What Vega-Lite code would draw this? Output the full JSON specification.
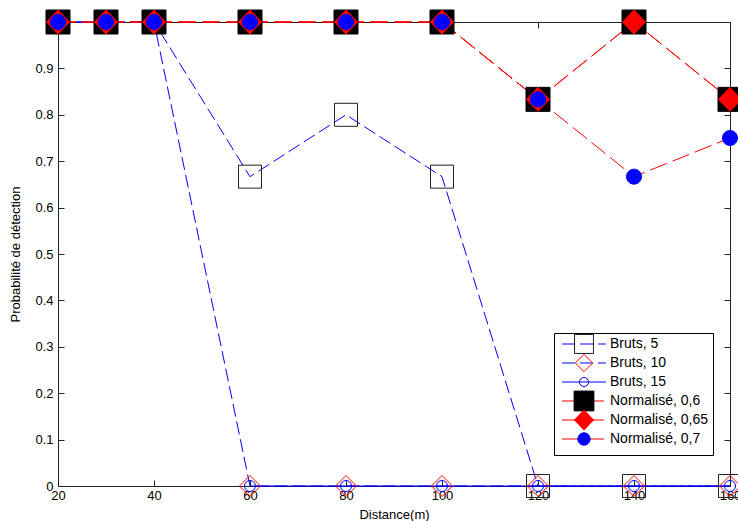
{
  "$schema": "https://vega.github.io/schema/vega-lite/v6.json",
  "width": 672,
  "height": 464,
  "autosize": {"type": "none"},
  "padding": {"left": 58, "top": 22, "right": 8, "bottom": 35},
  "background": "white",
  "config": {
    "view": {"stroke": null},
    "font": "Liberation Sans",
    "axis": {"labelFont": "Liberation Sans", "titleFont": "Liberation Sans", "labelColor": "#000", "titleColor": "#000", "domainColor": "#222", "tickColor": "#222", "grid": false, "titleFontWeight": "normal"},
    "legend": {"labelFont": "Liberation Sans"}
  },
  "data": {
    "values": [
      {"x": 20, "y": 1, "series": "Bruts, 5"},
      {"x": 30, "y": 1, "series": "Bruts, 5"},
      {"x": 40, "y": 1, "series": "Bruts, 5"},
      {"x": 60, "y": 0.6667, "series": "Bruts, 5"},
      {"x": 80, "y": 0.8, "series": "Bruts, 5"},
      {"x": 100, "y": 0.6667, "series": "Bruts, 5"},
      {"x": 120, "y": 0, "series": "Bruts, 5"},
      {"x": 140, "y": 0, "series": "Bruts, 5"},
      {"x": 160, "y": 0, "series": "Bruts, 5"},
      {"x": 20, "y": 1, "series": "Bruts, 10"},
      {"x": 30, "y": 1, "series": "Bruts, 10"},
      {"x": 40, "y": 1, "series": "Bruts, 10"},
      {"x": 60, "y": 0, "series": "Bruts, 10"},
      {"x": 80, "y": 0, "series": "Bruts, 10"},
      {"x": 100, "y": 0, "series": "Bruts, 10"},
      {"x": 120, "y": 0, "series": "Bruts, 10"},
      {"x": 140, "y": 0, "series": "Bruts, 10"},
      {"x": 160, "y": 0, "series": "Bruts, 10"},
      {"x": 60, "y": 0, "series": "Bruts, 15"},
      {"x": 80, "y": 0, "series": "Bruts, 15"},
      {"x": 100, "y": 0, "series": "Bruts, 15"},
      {"x": 120, "y": 0, "series": "Bruts, 15"},
      {"x": 140, "y": 0, "series": "Bruts, 15"},
      {"x": 160, "y": 0, "series": "Bruts, 15"},
      {"x": 20, "y": 1, "series": "Normalisé, 0,6"},
      {"x": 30, "y": 1, "series": "Normalisé, 0,6"},
      {"x": 40, "y": 1, "series": "Normalisé, 0,6"},
      {"x": 60, "y": 1, "series": "Normalisé, 0,6"},
      {"x": 80, "y": 1, "series": "Normalisé, 0,6"},
      {"x": 100, "y": 1, "series": "Normalisé, 0,6"},
      {"x": 120, "y": 0.8333, "series": "Normalisé, 0,6"},
      {"x": 140, "y": 1, "series": "Normalisé, 0,6"},
      {"x": 160, "y": 0.8333, "series": "Normalisé, 0,6"},
      {"x": 20, "y": 1, "series": "Normalisé, 0,65"},
      {"x": 30, "y": 1, "series": "Normalisé, 0,65"},
      {"x": 40, "y": 1, "series": "Normalisé, 0,65"},
      {"x": 60, "y": 1, "series": "Normalisé, 0,65"},
      {"x": 80, "y": 1, "series": "Normalisé, 0,65"},
      {"x": 100, "y": 1, "series": "Normalisé, 0,65"},
      {"x": 120, "y": 0.8333, "series": "Normalisé, 0,65"},
      {"x": 140, "y": 1, "series": "Normalisé, 0,65"},
      {"x": 160, "y": 0.8333, "series": "Normalisé, 0,65"},
      {"x": 20, "y": 1, "series": "Normalisé, 0,7"},
      {"x": 30, "y": 1, "series": "Normalisé, 0,7"},
      {"x": 40, "y": 1, "series": "Normalisé, 0,7"},
      {"x": 60, "y": 1, "series": "Normalisé, 0,7"},
      {"x": 80, "y": 1, "series": "Normalisé, 0,7"},
      {"x": 100, "y": 1, "series": "Normalisé, 0,7"},
      {"x": 120, "y": 0.8333, "series": "Normalisé, 0,7"},
      {"x": 140, "y": 0.6667, "series": "Normalisé, 0,7"},
      {"x": 160, "y": 0.75, "series": "Normalisé, 0,7"}
    ]
  },
  "resolve": {
    "scale": {"stroke": "independent", "fill": "independent", "shape": "independent", "strokeDash": "independent"},
    "legend": {"stroke": "independent", "fill": "independent", "shape": "independent", "strokeDash": "independent"},
    "axis": {"x": "independent", "y": "independent"}
  },
  "layer": [
    {
      "mark": {"type": "line", "strokeWidth": 1, "opacity": 1},
      "encoding": {
        "x": {"field": "x", "type": "quantitative", "scale": {"domain": [20, 160], "nice": false, "zero": false},
          "axis": {"orient": "bottom", "values": [20, 40, 60, 80, 100, 120, 140, 160], "tickSize": -6, "labelPadding": 9, "labelFontSize": 13, "title": "Distance(m)", "titleFontSize": 13, "titlePadding": 6, "labelFlush": false, "labelOverlap": false}},
        "y": {"field": "y", "type": "quantitative", "scale": {"domain": [0, 1], "nice": false, "zero": false},
          "axis": {"orient": "left", "values": [0, 0.1, 0.2, 0.3, 0.4, 0.5, 0.6, 0.7, 0.8, 0.9, 1], "format": "~g", "tickSize": -6, "labelPadding": 11, "labelFontSize": 13, "title": "Probabilité de détection", "titleFontSize": 13, "titlePadding": 12, "labelFlush": false, "labelOverlap": false}},
        "stroke": {"field": "series", "type": "nominal",
          "scale": {"domain": ["Bruts, 5", "Bruts, 10", "Bruts, 15", "Normalisé, 0,6", "Normalisé, 0,65", "Normalisé, 0,7"], "range": ["#0000ff", "#0000ff", "#0000ff", "#ff0000", "#ff0000", "#ff0000"]},
          "legend": {"orient": "none", "legendX": 496, "legendY": 311, "title": null, "symbolType": "M-5.33,0H5.33M0,-2.4M0,2.4", "symbolSize": 68, "symbolStrokeWidth": 1, "labelFontSize": 14, "labelOffset": 19, "symbolOffset": 19, "padding": 4, "rowPadding": -20, "fillColor": "white", "strokeColor": "#000", "labelColor": "#000"}},
        "strokeDash": {"field": "series", "type": "nominal",
          "scale": {"domain": ["Bruts, 5", "Bruts, 10", "Bruts, 15", "Normalisé, 0,6", "Normalisé, 0,65", "Normalisé, 0,7"], "range": [[13, 5], [13, 5], [1, 0], [18, 6], [18, 6], [18, 6]]},
          "legend": {"orient": "none", "legendX": 496, "legendY": 311, "title": null, "symbolType": "M-5.33,0H5.33M0,-2.4M0,2.4", "symbolSize": 68, "symbolStrokeWidth": 1, "labelFontSize": 14, "labelOffset": 19, "symbolOffset": 19, "padding": 4, "rowPadding": -20, "fillColor": "white", "strokeColor": "#000", "labelColor": "#000"}}
      }
    },
    {
      "mark": {"type": "point", "size": 100, "strokeWidth": 1, "opacity": 1},
      "encoding": {
        "x": {"field": "x", "type": "quantitative",
          "axis": {"orient": "top", "values": [20, 40, 60, 80, 100, 120, 140, 160], "tickSize": -6, "labels": false, "title": null}},
        "y": {"field": "y", "type": "quantitative",
          "axis": {"orient": "right", "values": [0, 0.1, 0.2, 0.3, 0.4, 0.5, 0.6, 0.7, 0.8, 0.9, 1], "tickSize": -6, "labels": false, "title": null}},
        "shape": {"field": "series", "type": "nominal",
          "scale": {"domain": ["Bruts, 5", "Bruts, 10", "Bruts, 15", "Normalisé, 0,6", "Normalisé, 0,65", "Normalisé, 0,7"],
            "range": ["M-2.3,-2.3H2.3V2.3H-2.3ZM0,-2.4M0,2.4", "M0,-2.1L2.1,0L0,2.1L-2.1,0ZM0,-2.4M0,2.4", "M1.1,0A1.1,1.1,0,1,1,-1.1,0A1.1,1.1,0,1,1,1.1,0ZM0,-2.4M0,2.4", "M-2.4,-2.4H2.4V2.4H-2.4Z", "M0,-2.4L2.3,0L0,2.4L-2.3,0Z", "M1.5,0A1.5,1.5,0,1,1,-1.5,0A1.5,1.5,0,1,1,1.5,0ZM0,-2.4M0,2.4"]},
          "legend": {"orient": "none", "legendX": 496, "legendY": 311, "title": null, "symbolSize": 68, "symbolStrokeWidth": 1, "labelFontSize": 14, "labelOffset": 19, "symbolOffset": 19, "padding": 4, "rowPadding": -20, "labelColor": "#000", "labelOpacity": 0}},
        "fill": {"field": "series", "type": "nominal",
          "scale": {"domain": ["Bruts, 5", "Bruts, 10", "Bruts, 15", "Normalisé, 0,6", "Normalisé, 0,65", "Normalisé, 0,7"], "range": ["transparent", "transparent", "transparent", "#000000", "#ff0000", "#0000ff"]},
          "legend": {"orient": "none", "legendX": 496, "legendY": 311, "title": null, "symbolSize": 68, "symbolStrokeWidth": 1, "labelFontSize": 14, "labelOffset": 19, "symbolOffset": 19, "padding": 4, "rowPadding": -20, "labelColor": "#000", "labelOpacity": 0}},
        "stroke": {"field": "series", "type": "nominal",
          "scale": {"domain": ["Bruts, 5", "Bruts, 10", "Bruts, 15", "Normalisé, 0,6", "Normalisé, 0,65", "Normalisé, 0,7"], "range": ["#222222", "#ff0000", "#0000ff", "#000000", "#ff0000", "#0000ff"]},
          "legend": {"orient": "none", "legendX": 496, "legendY": 311, "title": null, "symbolSize": 68, "symbolStrokeWidth": 1, "labelFontSize": 14, "labelOffset": 19, "symbolOffset": 19, "padding": 4, "rowPadding": -20, "labelColor": "#000", "labelOpacity": 0}}
      }
    }
  ]
}
